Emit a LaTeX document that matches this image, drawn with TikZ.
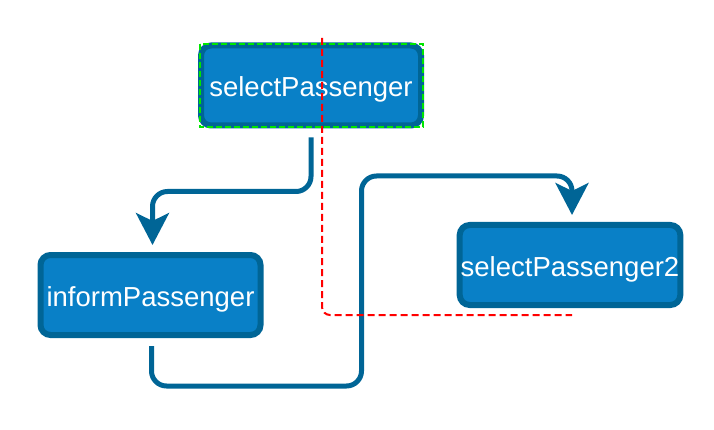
\documentclass[tikz,border=0pt]{standalone}
\usepackage{fontspec}
\setmainfont{Liberation Sans}
\usetikzlibrary{arrows.meta,positioning}
\definecolor{taskfill}{RGB}{9,128,199}
\definecolor{taskline}{RGB}{0,101,150}
\definecolor{pickgreen}{RGB}{0,230,0}

\begin{document}
\begin{tikzpicture}[
	x=1pt, y=1pt,
	on grid,
	align=center,
	task/.style={
		rectangle,
		rounded corners=10pt,
		draw=taskline,
		fill=taskfill,
		line width=6pt,
		text=white,
		inner xsep=1pt,
		text height=27pt,
		text depth=5pt,
		minimum width=220pt,
		minimum height=80pt,
		font=\fontsize{27.5}{32}\selectfont
	},
	flow/.style={
		draw=taskline,
		line width=5pt,
		rounded corners=15pt,
		-{Stealth[length=32pt,width=33pt,inset=8pt]}
	},
	cut/.style={
		draw=red,
		line width=2pt,
		dash pattern=on 7pt off 4pt,
		rounded corners=8pt
	},
	pick/.style={
		draw=pickgreen,
		line width=2pt,
		dash pattern=on 6pt off 3pt
	}]

	\useasboundingbox (0,0) rectangle (714,-430);

	\node[task] (sp) at (311,-85.5) {selectPassenger};
	\node[task, below left=209.5pt and 160.5pt of sp] (ip) {informPassenger};
	\node[task, below right=179.5pt and 259pt of sp] (sp2) {selectPassenger2};

	% selection frame
	\draw[pick] ([shift={(2pt,-2pt)}]sp.north west) rectangle ([shift={(-1pt,1pt)}]sp.south east);

	\draw[flow] ([yshift=-9pt]sp.south) -- ++(0,-54) -| ([shift={(2pt,7pt)}]ip.north);
	\draw[flow] ([shift={(1pt,-8pt)}]ip.south) -- ++(0,-40) -- ++(210,0)
		|- ([shift={(2pt,46pt)}]sp2.north) -- ([shift={(2pt,7pt)}]sp2.north);

	% cut line
	\coordinate (cuttop) at (322,-38);
	\coordinate (cutend) at (572,-315);
	\draw[cut] (cuttop) |- (cutend);
\end{tikzpicture}
\end{document}
